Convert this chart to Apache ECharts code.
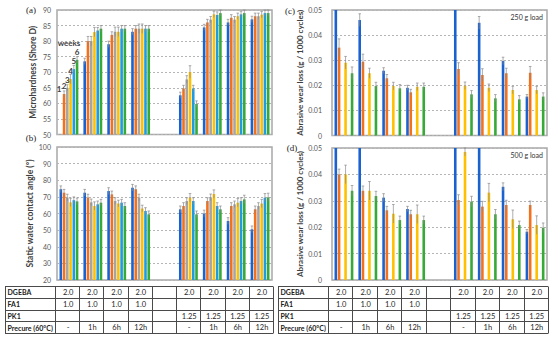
<!DOCTYPE html>
<html><head><meta charset="utf-8">
<script src="https://cdn.jsdelivr.net/npm/echarts@6/dist/echarts.min.js"></script>
<style>html,body{margin:0;padding:0;background:#fff}#c{width:550px;height:340px}</style>
</head><body><div id="c"></div>
<script>
// ---------------- data ----------------
const categories = ['FA1 -', 'FA1 1h', 'FA1 6h', 'FA1 12h', '', 'PK1 -', 'PK1 1h', 'PK1 6h', 'PK1 12h'];
const weeks = ['1', '2', '3', '4', '5', '6'];

// (a) Microhardness (Shore D), one row per week
const hardness = [
  [null, 73.5, 79, 83, null, 62.6, 84.4, 86, 87],
  [63, 80, 82, 84, null, 64.8, 86, 87.5, 88],
  [65, 80, 83, 84, null, 67.7, 86.9, 86.9, 88],
  [67.8, 82.9, 83, 84, null, 70.1, 88.6, 88, 88.5],
  [71, 83.4, 84, 84, null, 64.8, 88.4, 88.6, 89],
  [74, 84, 84, 84, null, 59.8, 89, 89, 89]
];
const hardnessErr = [
  [null, 1, 1, 1, null, 1, 1, 1, 1],
  [1, 1.5, 1, 1, null, 1, 1, 1, 1],
  [1, 1.5, 1.5, 1.5, null, 1.2, 1, 1, 1],
  [1.5, 1.5, 1.5, 1.5, null, 2, 1, 1, 1],
  [1.2, 1, 1, 1, null, 1, 1, 1, 1],
  [1, 1, 1, 1, null, 1, 1, 1, 1]
];

// (b) Static water contact angle (deg)
const contactAngle = [
  [74.6, 72.5, 73.5, 75.5, null, 62.5, 60, 55.5, 50.5],
  [72.5, 69.6, 71.5, 74.6, null, 64.5, 67.5, 64.5, 62.5],
  [69.6, 66.7, 67.5, 69.6, null, 67.5, 69.7, 65.5, 64.5],
  [66.7, 64.5, 66, 63, null, 69.5, 71.7, 66.5, 66],
  [68, 65.5, 66.5, 61.5, null, 67.5, 64.5, 67.5, 69.5],
  [67.3, 66.5, 64.5, 59.5, null, 59.5, 62.5, 68.5, 69.7]
];
const contactAngleErr = [
  [2, 2, 2, 2, null, 2, 2, 2, 2],
  [2, 2, 2, 2, null, 2, 2, 2, 2],
  [2, 2, 2, 2, null, 2, 2, 2, 2],
  [2.5, 2.5, 2, 2, null, 2.5, 2.5, 2.5, 2.5],
  [2, 2, 2, 2, null, 2, 2, 2, 2.5],
  [2, 2, 2, 2, null, 2, 2, 2.5, 2.5]
];

// (c) Abrasive wear loss, 250 g load (weeks 1,2,4,6 measured)
const wear250 = [
  [0.06, 0.046, 0.0258, 0.019, null, 0.06, 0.0449, 0.0297, 0.0155],
  [0.035, 0.0294, 0.0228, 0.0172, null, 0.0265, 0.0241, 0.0248, 0.025],
  [null, null, null, null, null, null, null, null, null],
  [0.029, 0.0248, 0.0197, 0.0194, null, 0.0198, 0.019, 0.0181, 0.0181],
  [null, null, null, null, null, null, null, null, null],
  [0.0248, 0.0197, 0.0188, 0.0194, null, 0.0164, 0.0148, 0.0144, 0.0155]
];
const wear250Err = [
  [0, 0.0025, 0.0012, 0.001, null, 0, 0.0025, 0.0015, 0.0008],
  [0.0035, 0.003, 0.0015, 0.0012, null, 0.0025, 0.0025, 0.002, 0.0025],
  [null, null, null, null, null, null, null, null, null],
  [0.0025, 0.002, 0.0015, 0.0015, null, 0.0015, 0.0015, 0.0015, 0.0015],
  [null, null, null, null, null, null, null, null, null],
  [0.0025, 0.0015, 0.0015, 0.0015, null, 0.0015, 0.0015, 0.0015, 0.0015]
];

// (d) Abrasive wear loss, 500 g load
const wear500 = [
  [0.06, 0.06, 0.0312, 0.0269, null, 0.06, 0.06, 0.0353, 0.0183],
  [0.040, 0.0338, 0.0264, 0.0249, null, 0.0303, 0.0278, 0.0284, 0.0284],
  [null, null, null, null, null, null, null, null, null],
  [0.040, 0.0338, 0.0251, 0.0249, null, 0.0485, 0.0331, 0.023, 0.0208],
  [null, null, null, null, null, null, null, null, null],
  [0.0338, 0.0318, 0.0227, 0.0227, null, 0.0297, 0.0249, 0.0208, 0.0198]
];
const wear500Err = [
  [0, 0, 0.0015, 0.001, null, 0, 0, 0.0015, 0.0008],
  [0.002, 0.0018, 0.0015, 0.0015, null, 0.002, 0.002, 0.0018, 0.0015],
  [null, null, null, null, null, null, null, null, null],
  [0.0035, 0.0035, 0.0035, 0.0035, null, 0.0015, 0.0035, 0.0035, 0.0035],
  [null, null, null, null, null, null, null, null, null],
  [0.002, 0.0018, 0.0015, 0.0015, null, 0.002, 0.0018, 0.0015, 0.0018]
];

// table
const tableRowLabels = ['DGEBA', 'FA1', 'PK1', 'Precure (60°C)'];
const tableDGEBA = ['2.0', '2.0', '2.0', '2.0', '', '2.0', '2.0', '2.0', '2.0'];
const tableFA1 = ['1.0', '1.0', '1.0', '1.0', '', '', '', '', ''];
const tablePK1 = ['', '', '', '', '', '1.25', '1.25', '1.25', '1.25'];
const tablePrecure = ['-', '1h', '6h', '12h', '', '-', '1h', '6h', '12h'];

// ---------------- style / layout ----------------
const FONT = 'Lato, "Liberation Sans", sans-serif';
const colors = ['#1a62cf', '#f4711c', '#a5a5a5', '#ffc000', '#1f9be6', '#36a936'];
const BW = 2.6, PITCH = 3.25;
const grids = [
  {left: 57, top: 10, width: 215, height: 124.5},
  {left: 57, top: 147, width: 215, height: 133},
  {left: 332, top: 10, width: 215, height: 125.5},
  {left: 332, top: 148, width: 215, height: 132}
];

const chart = echarts.init(document.getElementById('c'), null, {renderer: 'svg'});

function yAxis(g, min, max, interval, name, nameGap, margin, nameSize) {
  return {
    type: 'value', gridIndex: g, min, max, interval,
    axisLine: {show: false}, axisTick: {show: false},
    axisLabel: {fontSize: 7, color: '#595959', margin, fontFamily: FONT},
    splitLine: {lineStyle: {type: [2, 2], color: '#b5b5b5', width: 1}},
    name, nameLocation: 'middle', nameGap,
    nameTextStyle: {fontSize: nameSize, fontWeight: 'bold', color: '#404040', fontFamily: FONT}
  };
}
function xAxis(g) {
  return {type: 'category', gridIndex: g, data: categories,
    axisLabel: {show: false}, axisTick: {show: false}, axisLine: {show: false}, splitLine: {show: false}};
}

const series = [];
function addPanel(g, values, errs, ymin, ymax, labelFirst) {
  values.forEach((arr, s) => {
    series.push({
      type: 'bar', xAxisIndex: g, yAxisIndex: g, name: 'week ' + weeks[s],
      barWidth: BW, barGap: ((PITCH - BW) / BW * 100) + '%',
      itemStyle: {color: colors[s]},
      data: arr.map((v, i) => (labelFirst && i === 0 && v != null) ? {
        value: v,
        label: {show: true, position: 'top', distance: 4, formatter: weeks[s],
          fontSize: 8, fontWeight: 'bold', color: '#404040', fontFamily: FONT}
      } : v),
      animation: false, silent: true
    });
  });
  const errData = [];
  values.forEach((arr, s) => arr.forEach((v, i) => {
    const e = errs[s][i];
    if (v != null && e) errData.push([i, v, e, s]);
  }));
  series.push({
    type: 'custom', xAxisIndex: g, yAxisIndex: g, data: errData, z: 5,
    animation: false, silent: true,
    encode: {x: 0, y: 1},
    renderItem: (params, api) => {
      const i = api.value(0), v = api.value(1), e = api.value(2), s = api.value(3);
      if (v + e > ymax + 1e-9) return null;
      const c = api.coord([i, v]);
      const t = api.coord([i, v + e]);
      const b = api.coord([i, Math.max(v - e, ymin)]);
      const x = c[0] + (s - 2.5) * PITCH;
      const st = {stroke: '#8a8a8a', lineWidth: 0.7};
      return {type: 'group', children: [
        {type: 'line', shape: {x1: x, y1: t[1], x2: x, y2: b[1]}, style: st},
        {type: 'line', shape: {x1: x - 1.3, y1: t[1], x2: x + 1.3, y2: t[1]}, style: st}
      ]};
    }
  });
}
addPanel(0, hardness, hardnessErr, 50, 90, true);
addPanel(1, contactAngle, contactAngleErr, 20, 100, false);
addPanel(2, wear250, wear250Err, 0, 0.05, false);
addPanel(3, wear500, wear500Err, 0, 0.05, false);

// table graphic
function buildTable(x0, xCols, xEnd, y0, rowH) {
  const els = [];
  const rows = [tableDGEBA, tableFA1, tablePK1, tablePrecure];
  const colW = (xEnd - xCols) / categories.length;
  const lineSt = {stroke: '#4a4a4a', lineWidth: 1};
  const yB = y0 + rowH * rows.length;
  for (let r = 0; r <= rows.length; r++) {
    const y = Math.round(y0 + r * rowH) + 0.5;
    els.push({type: 'line', shape: {x1: x0, y1: y, x2: xEnd, y2: y}, style: lineSt, silent: true});
  }
  const vx = [x0, xCols];
  for (let c = 1; c <= categories.length; c++) vx.push(xCols + c * colW);
  vx.forEach(x => {
    const xx = Math.round(x) + 0.5;
    els.push({type: 'line', shape: {x1: xx, y1: Math.round(y0) + 0.5, x2: xx, y2: Math.round(yB) + 0.5}, style: lineSt, silent: true});
  });
  rows.forEach((row, r) => {
    const yc = y0 + (r + 0.5) * rowH + 0.5;
    els.push({type: 'text', x: x0 + 2.5, y: yc, silent: true,
      style: {text: tableRowLabels[r], fontSize: 7, fontWeight: 'bold', fill: '#1a1a1a',
        fontFamily: FONT, align: 'left', verticalAlign: 'middle'}});
    row.forEach((t, c) => {
      if (!t) return;
      els.push({type: 'text', x: xCols + (c + 0.5) * colW + 1, y: yc, silent: true,
        style: {text: t, fontSize: 7.5, fill: '#262626', fontFamily: FONT, align: 'center', verticalAlign: 'middle'}});
    });
  });
  return els;
}

const textEls = [
  {type: 'text', x: 31, y: 10, style: {text: '(a)', fontSize: 9, fill: '#222', fontFamily: '"Liberation Serif", serif', align: 'center', verticalAlign: 'middle'}},
  {type: 'text', x: 31, y: 138, style: {text: '(b)', fontSize: 9, fill: '#222', fontFamily: '"Liberation Serif", serif', align: 'center', verticalAlign: 'middle'}},
  {type: 'text', x: 290, y: 11, style: {text: '(c)', fontSize: 9, fill: '#222', fontFamily: '"Liberation Serif", serif', align: 'center', verticalAlign: 'middle'}},
  {type: 'text', x: 292, y: 148, style: {text: '(d)', fontSize: 9, fill: '#222', fontFamily: '"Liberation Serif", serif', align: 'center', verticalAlign: 'middle'}},
  {type: 'text', x: 543, y: 17, style: {text: '250 g load', fontSize: 7, fill: '#333', fontFamily: FONT, align: 'right', verticalAlign: 'middle'}},
  {type: 'text', x: 543, y: 155, style: {text: '500 g load', fontSize: 7, fill: '#333', fontFamily: FONT, align: 'right', verticalAlign: 'middle'}},
  {type: 'text', x: 69, y: 43, style: {text: 'weeks', fontSize: 8, fontWeight: 'bold', fill: '#404040', fontFamily: FONT, align: 'center', verticalAlign: 'middle'}},
  {type: 'text', x: 59, y: 89, style: {text: weeks[0], fontSize: 8, fontWeight: 'bold', fill: '#404040', fontFamily: FONT, align: 'center', verticalAlign: 'middle'}}
];

chart.setOption({
  animation: false,
  textStyle: {fontFamily: FONT},
  grid: grids.map(g => Object.assign({show: true, borderColor: '#a8a8a8', borderWidth: 1.5, containLabel: false}, g)),
  xAxis: [xAxis(0), xAxis(1), xAxis(2), xAxis(3)],
  yAxis: [
    yAxis(0, 50, 90, 5, 'Microhardness (Shore D)', 20, 6, 8.5),
    yAxis(1, 20, 100, 10, 'Static water contact angle (°)', 20, 6, 8.5),
    yAxis(2, 0, 0.05, 0.01, 'Abrasive wear loss (g / 1000 cycles)', 28, 10, 8),
    yAxis(3, 0, 0.05, 0.01, 'Abrasive wear loss (g / 1000 cycles)', 28, 10, 8)
  ],
  series,
  graphic: [].concat(
    textEls,
    buildTable(5, 55, 273, 286, 11.8),
    buildTable(278, 328, 548, 286, 11.8)
  )
});
</script>
</body></html>
